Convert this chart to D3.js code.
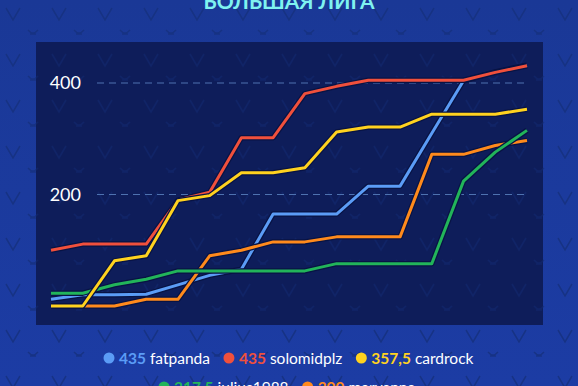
<!DOCTYPE html>
<html>
<head>
<meta charset="utf-8">
<script src="https://cdn.jsdelivr.net/npm/d3@7"></script>
<style>
  html, body { margin: 0; padding: 0; background: #1b3a9e; }
  svg { display: block; font-family: Lato, "Open Sans", sans-serif; }
</style>
</head>
<body>
<script>
// rounds 0..15
var rounds = d3.range(16);
var yTicks = [200, 400];

var players = ["fatpanda", "solomidplz", "cardrock", "julius1988", "marvanna"];
var totals = ["435", "435", "357,5", "217,5", "300"];
var colors = ["#5b9cf6", "#f0503c", "#ffd21f", "#22b45a", "#ff8a1c"];

var fatpanda   = [12, 20, 20, 21, 38, 55, 66, 165, 165, 165, 215, 215, 310, 404, 420, 432];
var solomidplz = [100, 111, 111, 111, 190, 204, 302, 302, 381, 394, 405, 405, 405, 405, 419, 431];
var cardrock   = [0, 0, 81, 90, 189, 198, 239, 239, 248, 312, 321, 321, 344, 344, 344, 353];
var julius1988 = [23, 23, 38, 48, 63, 63, 63, 63, 63, 76, 76, 76, 76, 224, 276, 315];
var marvanna   = [0, 0, 0, 12, 12, 90, 100, 115, 115, 124, 124, 124, 272, 272, 288, 297];

var series = [fatpanda, solomidplz, cardrock, julius1988, marvanna];
var drawOrder = [0, 1, 4, 3, 2];

var W = 578, H = 386;

var svg = d3.select("body").append("svg")
    .attr("width", W)
    .attr("height", H);

var defs = svg.append("defs");
var grad = defs.append("linearGradient").attr("id", "bg").attr("x1", 0).attr("y1", 0).attr("x2", 0).attr("y2", 1);
grad.append("stop").attr("offset", "0%").attr("stop-color", "#1a3896");
grad.append("stop").attr("offset", "100%").attr("stop-color", "#1c3ca4");

// faint "V" pattern on the background
var pat = defs.append("pattern").attr("id", "vpat")
    .attr("patternUnits", "userSpaceOnUse")
    .attr("width", 46).attr("height", 46);
pat.append("path")
    .attr("d", "M6,8 L13,20 L20,8")
    .attr("fill", "none").attr("stroke", "#15307e").attr("stroke-width", 1.6);
pat.append("path")
    .attr("d", "M28,30 q5,6 10,0 M30,34 h6")
    .attr("fill", "none").attr("stroke", "#15307e").attr("stroke-width", 1.6);

svg.append("rect").attr("width", W).attr("height", H).attr("fill", "url(#bg)");
svg.append("rect").attr("width", W).attr("height", H).attr("fill", "url(#vpat)").attr("opacity", 0.8);

// title, cut by the top edge
svg.append("text")
    .attr("x", 289)
    .attr("y", 9)
    .attr("text-anchor", "middle")
    .attr("fill", "#7ff3f0")
    .style("font-size", "21px")
    .style("font-weight", "bold")
    .text("БОЛЬШАЯ ЛИГА");

// chart panel
svg.append("rect")
    .attr("x", 36).attr("y", 42)
    .attr("width", 507).attr("height", 283)
    .attr("fill", "#0e1d5a");
svg.append("rect")
    .attr("x", 36).attr("y", 42)
    .attr("width", 507).attr("height", 283)
    .attr("fill", "url(#vpat)").attr("opacity", 0.35);

var x = d3.scaleLinear().domain([0, 15]).range([51, 527]);
var y = d3.scaleLinear().domain([0, 400]).range([306, 83]);

// dashed gridlines
svg.append("g").selectAll("line")
    .data(yTicks)
    .enter().append("line")
    .attr("x1", 97).attr("x2", 528)
    .attr("y1", function(d) { return y(d); })
    .attr("y2", function(d) { return y(d); })
    .attr("stroke", "#4e72b0")
    .attr("stroke-width", 1)
    .attr("stroke-dasharray", "7,5");

// y axis labels
var yAxis = d3.axisLeft(y).tickValues(yTicks).tickSize(0).tickPadding(0);
var ag = svg.append("g")
    .attr("transform", "translate(81,0)")
    .call(yAxis);
ag.select(".domain").remove();
ag.selectAll("text")
    .attr("fill", "#ffffff")
    .style("font-size", "18px")
    .style("font-family", "Lato, sans-serif");

var line = d3.line()
    .x(function(d, i) { return x(rounds[i]); })
    .y(function(d) { return y(d); });

drawOrder.forEach(function(k) {
    svg.append("path")
        .attr("d", line(series[k]))
        .attr("fill", "none")
        .attr("stroke", "#081344")
        .attr("stroke-width", 5.5)
        .attr("stroke-linejoin", "round");
    svg.append("path")
        .attr("d", line(series[k]))
        .attr("fill", "none")
        .attr("stroke", colors[k])
        .attr("stroke-width", 3)
        .attr("stroke-linejoin", "round");
});

// legend
var legendRows = [[0, 1, 2], [3, 4]];
var rowY = [358, 387];
var rowStart = [104, 159];

legendRows.forEach(function(row, r) {
    var cx = rowStart[r];
    row.forEach(function(k) {
        var g = svg.append("g").attr("transform", "translate(" + cx + "," + rowY[r] + ")");
        g.append("circle").attr("cx", 5).attr("cy", 0).attr("r", 5.5).attr("fill", colors[k]);
        var t = g.append("text")
            .attr("x", 15)
            .attr("y", 0)
            .attr("dy", "0.36em")
            .style("font-size", "15.5px");
        t.append("tspan").attr("fill", colors[k]).style("font-weight", "bold").text(totals[k]);
        t.append("tspan").attr("fill", "#ffffff").style("font-weight", "normal").text(" " + players[k]);
        var w = t.node().getComputedTextLength();
        cx += 15 + w + 14;
    });
});
</script>
</body>
</html>
